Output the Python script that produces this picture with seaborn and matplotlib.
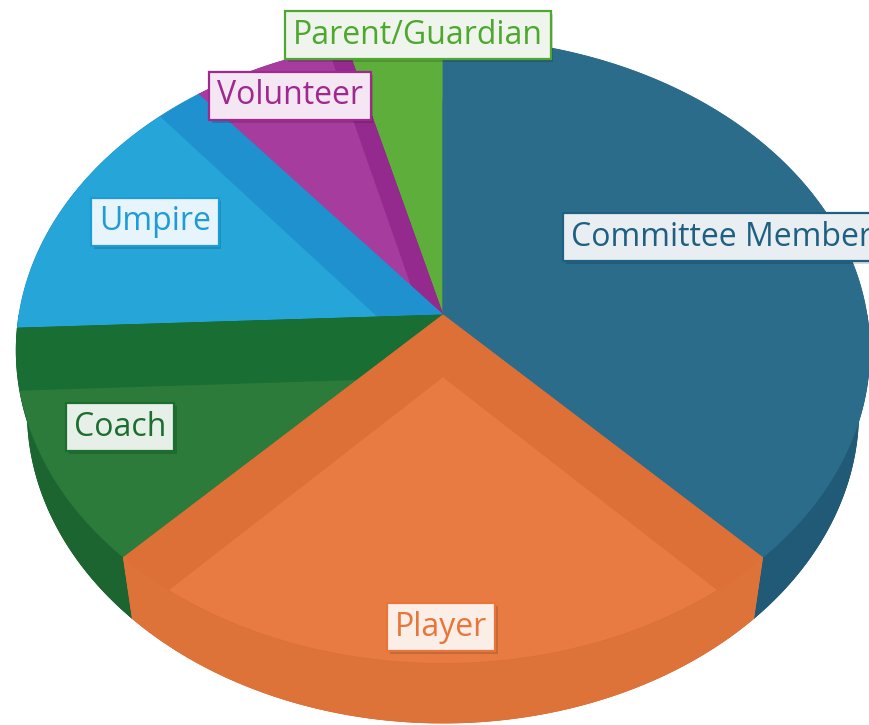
import numpy as np
import matplotlib.pyplot as plt
import seaborn as sns
import matplotlib.patheffects as pe

# data: people by role
roles = ["Committee Member", "Player", "Coach", "Umpire", "Volunteer", "Parent/Guardian"]
counts = [28, 18, 9, 11, 5, 3]

# colours: top face, wall/rim shade, outer side shade
face_cols = ["#2C6C8B", "#E87B41", "#2D7B3B", "#26A5D9", "#A73C9F", "#5DAE3B"]
wall_cols = ["#2B6A88", "#DC7037", "#196E34", "#1F91CE", "#942A8D", "#55A735"]
side_cols = ["#205A76", "#DE733A", "#1C6531", "#1C86BE", "#85237F", "#4C9A30"]
text_cols = ["#1F6082", "#E8763A", "#1C6E30", "#1E9CD8", "#A0288F", "#4EA82F"]
box_cols = ["#E8EEF2", "#FBEEE7", "#E7F0E8", "#E8F4FB", "#F4E6F2", "#EFF5EC"]

sns.set_style("white")
plt.rcParams["font.family"] = ["Open Sans", "DejaVu Sans"]

# view of the pie (perspective camera)
ELEV = np.deg2rad(46.7)
DIST = 6.05
DEPTH = 0.22


def project(theta, r, h):
    # theta clockwise from the back of the pie, h = height of the face
    x = r * np.sin(theta)
    z = r * np.cos(theta)
    d = DIST - h * np.sin(ELEV) + z * np.cos(ELEV)
    X = x * DIST / d
    Y = (h * np.cos(ELEV) + z * np.sin(ELEV)) * DIST / d
    return np.column_stack([np.atleast_1d(X), np.atleast_1d(Y)])


fig = plt.figure(figsize=(8.69, 7.25), dpi=100)
ax = fig.add_axes([0, 0, 1, 1])
ax.set_xlim(-443 / 424, 426 / 424)
ax.set_ylim(-410 / 424, 315 / 424)
ax.axis("off")

vals = np.array(counts, dtype=float)
edges = np.concatenate([[0], np.cumsum(vals)]) / vals.sum() * 2 * np.pi
mids = (edges[:-1] + edges[1:]) / 2
order = np.argsort(-np.cos(mids))  # back slices first

c_top = project(0, 0, 0)
c_bot = project(0, 0, -DEPTH)

for i in order:
    t0, t1 = edges[i], edges[i + 1]
    arc = np.linspace(t0, t1, 200)
    top_rim = project(arc, 1, 0)
    bot_rim = project(arc, 1, -DEPTH)
    top_w = np.vstack([c_top, top_rim])
    bot_w = np.vstack([c_bot, bot_rim])
    kw = dict(lw=0.6)

    ax.fill(bot_w[:, 0], bot_w[:, 1], fc=wall_cols[i], ec=wall_cols[i], **kw)
    for k in (0, -1):
        wall = np.vstack([c_top, top_rim[k], bot_rim[k], c_bot])
        ax.fill(wall[:, 0], wall[:, 1], fc=wall_cols[i], ec=wall_cols[i], **kw)

    # outer side, front half only
    a0, a1 = max(t0, np.pi / 2), min(t1, 3 * np.pi / 2)
    if a1 > a0:
        sarc = np.linspace(a0, a1, 200)
        side = np.vstack([project(sarc, 1, 0), project(sarc[::-1], 1, -DEPTH)])
        ax.fill(side[:, 0], side[:, 1], fc=side_cols[i], ec=side_cols[i], **kw)

    top_patch = ax.fill(top_w[:, 0], top_w[:, 1], fc=wall_cols[i], ec=wall_cols[i], **kw)[0]
    # lit part of the top: wedge seen below the walls, cut to the top face
    lit = np.vstack([c_bot, project(arc, 1.8, -DEPTH)])
    light = ax.fill(lit[:, 0], lit[:, 1], fc=face_cols[i], ec="none", lw=0)[0]
    light.set_clip_path(top_patch)

# data labels (pixel anchors of the boxes)
label_pos = {
    "Committee Member": (571, 237, "left"),
    "Player": (441, 627, "center"),
    "Coach": (120, 427, "center"),
    "Umpire": (155, 222, "center"),
    "Volunteer": (290, 96, "center"),
    "Parent/Guardian": (418, 35, "center"),
}
for i, name in enumerate(roles):
    px, py, ha = label_pos[name]
    t = fig.text(px / 869, 1 - py / 725, name, ha=ha, va="center", fontsize=23,
                 color=text_cols[i],
                 bbox=dict(boxstyle="square,pad=0.24", fc=box_cols[i], ec=text_cols[i], lw=1.6))
    t.get_bbox_patch().set_path_effects([
        pe.SimplePatchShadow(offset=(2, -2), shadow_rgbFace="black", alpha=0.15), pe.Normal()])

fig.savefig("out.png", dpi=100)
